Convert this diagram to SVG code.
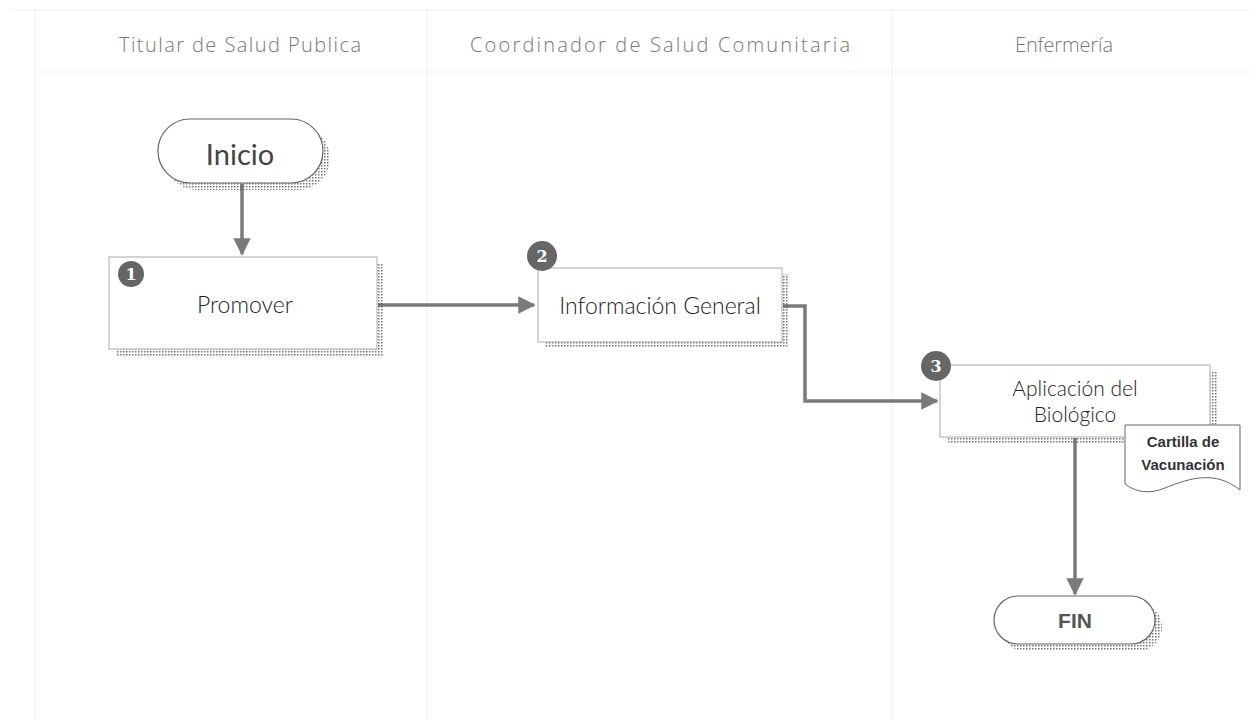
<svg xmlns="http://www.w3.org/2000/svg" width="1257" height="723" viewBox="0 0 1257 723">
<defs>
<pattern id="dots" width="3" height="3" patternUnits="userSpaceOnUse">
<rect x="0" y="0" width="1.5" height="1.5" fill="#444"/>
</pattern>
<marker id="arr" viewBox="0 0 10 10" refX="9" refY="5" markerWidth="5" markerHeight="5" orient="auto" markerUnits="strokeWidth">
<path d="M0,0 L10,5 L0,10 z" fill="#7a7a7a"/>
</marker>
<style>
.lane{stroke:#f2f2f2;stroke-width:1.2;fill:none}
.hdr{font-family:"Open Sans","Liberation Sans",sans-serif;font-size:20px;fill:#777;text-anchor:middle;font-weight:300}
.box{fill:#fff;stroke:#aaa;stroke-width:1}
.shadow{fill:url(#dots);opacity:0.75}
.lbl{font-family:"Lato","Liberation Sans",sans-serif;font-size:23px;fill:#222;text-anchor:middle;font-weight:300}
.badge{fill:#666}
.bnum{font-family:"DejaVu Serif",serif;font-weight:bold;font-size:16px;fill:#fff;text-anchor:middle}
.conn{stroke:#7a7a7a;stroke-width:3.5;fill:none;marker-end:url(#arr)}
.doc{font-family:"Liberation Sans",sans-serif;font-weight:bold;font-size:15px;fill:#333;text-anchor:middle}
</style>
</defs>
<rect width="1257" height="723" fill="#fff"/>
<g id="lanes">
<line class="lane" x1="10" y1="10" x2="1250" y2="10"/>
<line class="lane" x1="35" y1="72" x2="1250" y2="72"/>
<line class="lane" x1="35" y1="10" x2="35" y2="720"/>
<line class="lane" x1="427" y1="10" x2="427" y2="720"/>
<line class="lane" x1="892" y1="10" x2="892" y2="720"/>
<text class="hdr" x="240" y="52" textLength="242" lengthAdjust="spacing">Titular de Salud Publica</text>
<text class="hdr" x="660" y="52" textLength="380" lengthAdjust="spacing">Coordinador de Salud Comunitaria</text>
<text class="hdr" x="1064" y="52" textLength="98" lengthAdjust="spacing">Enfermería</text>
</g>
<g id="connectors">
<path class="conn" d="M242,184 L242,254"/>
<path class="conn" d="M378,305 L534,305"/>
<path class="conn" d="M783,306 L805,306 L805,401 L937,401"/>
<path class="conn" d="M1075,438 L1075,594"/>
</g>
<g id="inicio">
<rect class="shadow" x="165" y="126" width="165" height="64" rx="32"/>
<rect x="158" y="119" width="165" height="64" rx="32" fill="#fff" stroke="#666" stroke-width="1.2"/>
<text x="240" y="165" font-family="Lato,'Liberation Sans',sans-serif" font-size="29" fill="#444" text-anchor="middle">Inicio</text>
</g>
<g id="promover">
<rect class="shadow" x="116" y="263" width="268" height="93"/>
<rect class="box" x="109" y="257" width="268" height="92"/>
<text class="lbl" x="245" y="313">Promover</text>
<circle class="badge" cx="131" cy="274" r="13"/>
<text class="bnum" x="131" y="280">1</text>
</g>
<g id="info">
<rect class="shadow" x="545" y="274" width="244" height="74"/>
<rect class="box" x="538" y="268" width="244" height="74"/>
<text class="lbl" x="660" y="314">Información General</text>
<circle class="badge" cx="542" cy="256" r="15"/>
<text class="bnum" x="542" y="262">2</text>
</g>
<g id="aplicacion">
<rect class="shadow" x="947" y="371" width="270" height="73"/>
<rect class="box" x="940" y="365" width="270" height="72"/>
<text class="lbl" x="1075" y="396" style="font-size:21px">Aplicación del</text>
<text class="lbl" x="1075" y="422" style="font-size:21px">Biológico</text>
<circle class="badge" cx="936" cy="366" r="15"/>
<text class="bnum" x="936" y="372">3</text>
</g>
<g id="cartilla">
<path d="M1125,425 L1240,425 L1240,490 C1215,470 1190,478 1165,488 C1150,494 1137,493 1125,484 Z" fill="#fff" stroke="#666" stroke-width="1"/>
<text class="doc" x="1183" y="447">Cartilla de</text>
<text class="doc" x="1183" y="470">Vacunación</text>
</g>
<g id="fin">
<rect class="shadow" x="1001" y="603" width="161" height="48" rx="24"/>
<rect x="994" y="596" width="161" height="48" rx="24" fill="#fff" stroke="#666" stroke-width="1.2"/>
<text x="1075" y="628" font-family="'Liberation Sans',sans-serif" font-weight="bold" font-size="21" fill="#555" text-anchor="middle">FIN</text>
</g>
</svg>
